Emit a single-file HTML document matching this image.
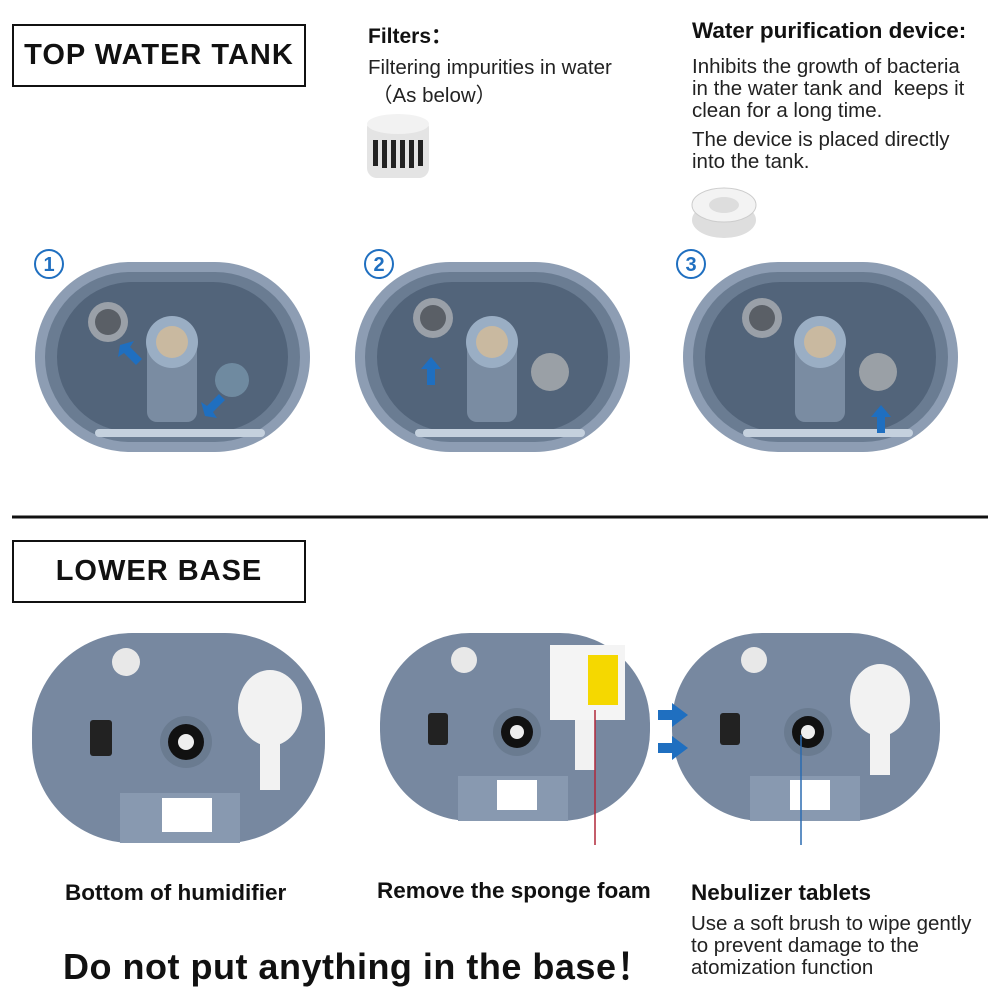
<!DOCTYPE html>
<html><head><meta charset="utf-8"><style>
body{margin:0;width:1000px;height:1000px;background:#fff;position:relative;overflow:hidden;font-family:"Liberation Sans",sans-serif;color:#111}
.t{position:absolute;white-space:nowrap}
.box{position:absolute;border:2px solid #111;font-weight:bold;font-size:29px;display:flex;align-items:center;justify-content:center;letter-spacing:1px}
.s{font-size:20.5px;color:#222}
.b{font-weight:bold;font-size:22.5px}
</style></head><body>
<div class="box" style="left:12px;top:24px;width:290px;height:59px">TOP WATER TANK</div>
<div class="box" style="left:12px;top:540px;width:290px;height:59px">LOWER BASE</div>
<div class="t b" style="left:368px;top:20px;font-size:21px">Filters：</div>
<div class="t s" style="left:368px;top:56px">Filtering impurities in water</div>
<div class="t s" style="left:372px;top:78px">（As below）</div>
<div class="t b" style="left:692px;top:18px">Water purification device:</div>
<div class="t s" style="left:692px;top:56px;line-height:22px">Inhibits the growth of bacteria<br>in the water tank and&nbsp; keeps it<br>clean for a long time.</div>
<div class="t s" style="left:692px;top:129px;line-height:22px">The device is placed directly<br>into the tank.</div>
<div class="t b" style="left:65px;top:880px">Bottom of humidifier</div>
<div class="t b" style="left:377px;top:878px">Remove the sponge foam</div>
<div class="t b" style="left:691px;top:880px">Nebulizer tablets</div>
<div class="t s" style="left:691px;top:913px;line-height:22px">Use a soft brush to wipe gently<br>to prevent damage to the<br>atomization function</div>
<div class="t" style="left:63px;top:938px;font-weight:bold;font-size:36px;letter-spacing:0.5px">Do not put anything in the base！</div>
<svg width="1000" height="1000" style="position:absolute;left:0;top:0">
<defs>
<g id="tank">
<rect x="0" y="0" width="275" height="190" rx="95" fill="#8d9db3"/>
<rect x="10" y="10" width="255" height="170" rx="85" fill="#6a7c92"/>
<rect x="22" y="20" width="231" height="150" rx="75" fill="#52647a"/>
<rect x="112" y="70" width="50" height="90" rx="10" fill="#7a8ca2"/>
<circle cx="137" cy="80" r="26" fill="#9aaec4"/><circle cx="137" cy="80" r="16" fill="#c9b9a0"/>
<rect x="60" y="167" width="170" height="8" rx="4" fill="#c5d1de"/>
</g>
<g id="gear"><circle r="20" fill="#9aa0a8"/><circle r="13" fill="#5a5f66"/></g>
</defs>
<line x1="12" y1="517" x2="988" y2="517" stroke="#111" stroke-width="3"/>
<rect x="367" y="118" width="62" height="60" rx="10" fill="#e4e4e4"/>
<ellipse cx="398" cy="124" rx="31" ry="10" fill="#f2f2f2"/>
<g fill="#222"><rect x="373" y="140" width="5" height="26"/><rect x="382" y="140" width="5" height="28"/><rect x="391" y="140" width="5" height="28"/><rect x="400" y="140" width="5" height="28"/><rect x="409" y="140" width="5" height="28"/><rect x="418" y="140" width="5" height="26"/></g>
<ellipse cx="724" cy="220" rx="32" ry="18" fill="#dedede"/><ellipse cx="724" cy="205" rx="32" ry="17" fill="#f3f3f3" stroke="#ccc"/><ellipse cx="724" cy="205" rx="15" ry="8" fill="#ddd"/>
<g fill="none" stroke="#1f6fc0" stroke-width="2"><circle cx="49" cy="264" r="14"/><circle cx="379" cy="264" r="14"/><circle cx="691" cy="264" r="14"/></g>
<g fill="#1f6fc0" font-family="Liberation Sans" font-size="20" font-weight="bold" text-anchor="middle"><text x="49" y="271">1</text><text x="379" y="271">2</text><text x="691" y="271">3</text></g>
<use href="#tank" x="35" y="262"/><use href="#tank" x="355" y="262"/><use href="#tank" x="683" y="262"/>
<use href="#gear" x="108" y="322"/><use href="#gear" x="433" y="318"/><use href="#gear" x="762" y="318"/>
<circle cx="232" cy="380" r="17" fill="#6f8aa0"/><circle cx="550" cy="372" r="19" fill="#9aa0a6"/><circle cx="878" cy="372" r="19" fill="#9aa0a6"/>
<g fill="#1f6fc0"><path d="M120 345 l14 -4 l-4 6 l12 12 l-6 6 l-12 -12 l-6 4z"/><path d="M218 403 l-14 4 l4 -6 l-12 -12 l6 -6 l12 12 l6 -4z" transform="rotate(90 205 403)"/><path d="M431 357 l-10 12 h6 v16 h8 v-16 h6z"/><path d="M881 405 l-10 12 h6 v16 h8 v-16 h6z"/></g>
<rect x="32" y="633" width="293" height="210" rx="100" fill="#7788a0"/>
<rect x="380" y="633" width="270" height="188" rx="90" fill="#7788a0"/>
<rect x="672" y="633" width="268" height="188" rx="90" fill="#7788a0"/>
<g fill="#8899b0"><rect x="120" y="793" width="120" height="50"/><rect x="458" y="776" width="110" height="45"/><rect x="750" y="776" width="110" height="45"/></g>
<g fill="#222"><rect x="90" y="720" width="22" height="36" rx="3"/><rect x="428" y="713" width="20" height="32" rx="3"/><rect x="720" y="713" width="20" height="32" rx="3"/></g>
<g><circle cx="186" cy="742" r="26" fill="#6a7b90"/><circle cx="186" cy="742" r="18" fill="#111"/><circle cx="186" cy="742" r="8" fill="#eee"/>
<circle cx="517" cy="732" r="24" fill="#6a7b90"/><circle cx="517" cy="732" r="16" fill="#111"/><circle cx="517" cy="732" r="7" fill="#eee"/>
<circle cx="808" cy="732" r="24" fill="#6a7b90"/><circle cx="808" cy="732" r="16" fill="#111"/><circle cx="808" cy="732" r="7" fill="#eee"/></g>
<g fill="#f2f2f2"><ellipse cx="270" cy="708" rx="32" ry="38"/><rect x="260" y="735" width="20" height="55"/><ellipse cx="880" cy="700" rx="30" ry="36"/><rect x="870" y="725" width="20" height="50"/><rect x="575" y="700" width="20" height="70"/></g>
<g fill="#e8e8e8"><circle cx="126" cy="662" r="14"/><circle cx="464" cy="660" r="13"/><circle cx="754" cy="660" r="13"/></g>
<g fill="#fff"><rect x="162" y="798" width="50" height="34"/><rect x="497" y="780" width="40" height="30"/><rect x="790" y="780" width="40" height="30"/></g>
<rect x="550" y="645" width="75" height="75" fill="#f4f4f4"/>
<rect x="588" y="655" width="30" height="50" fill="#f5d800"/>
<g fill="#1f6fc0"><path d="M658 710 h14 v-7 l16 12 l-16 12 v-7 h-14z"/><path d="M658 743 h14 v-7 l16 12 l-16 12 v-7 h-14z"/></g>
<line x1="595" y1="710" x2="595" y2="845" stroke="#b0283a" stroke-width="1.5"/>
<line x1="801" y1="735" x2="801" y2="845" stroke="#2a6ab0" stroke-width="1.5"/>
</svg>
</body></html>
